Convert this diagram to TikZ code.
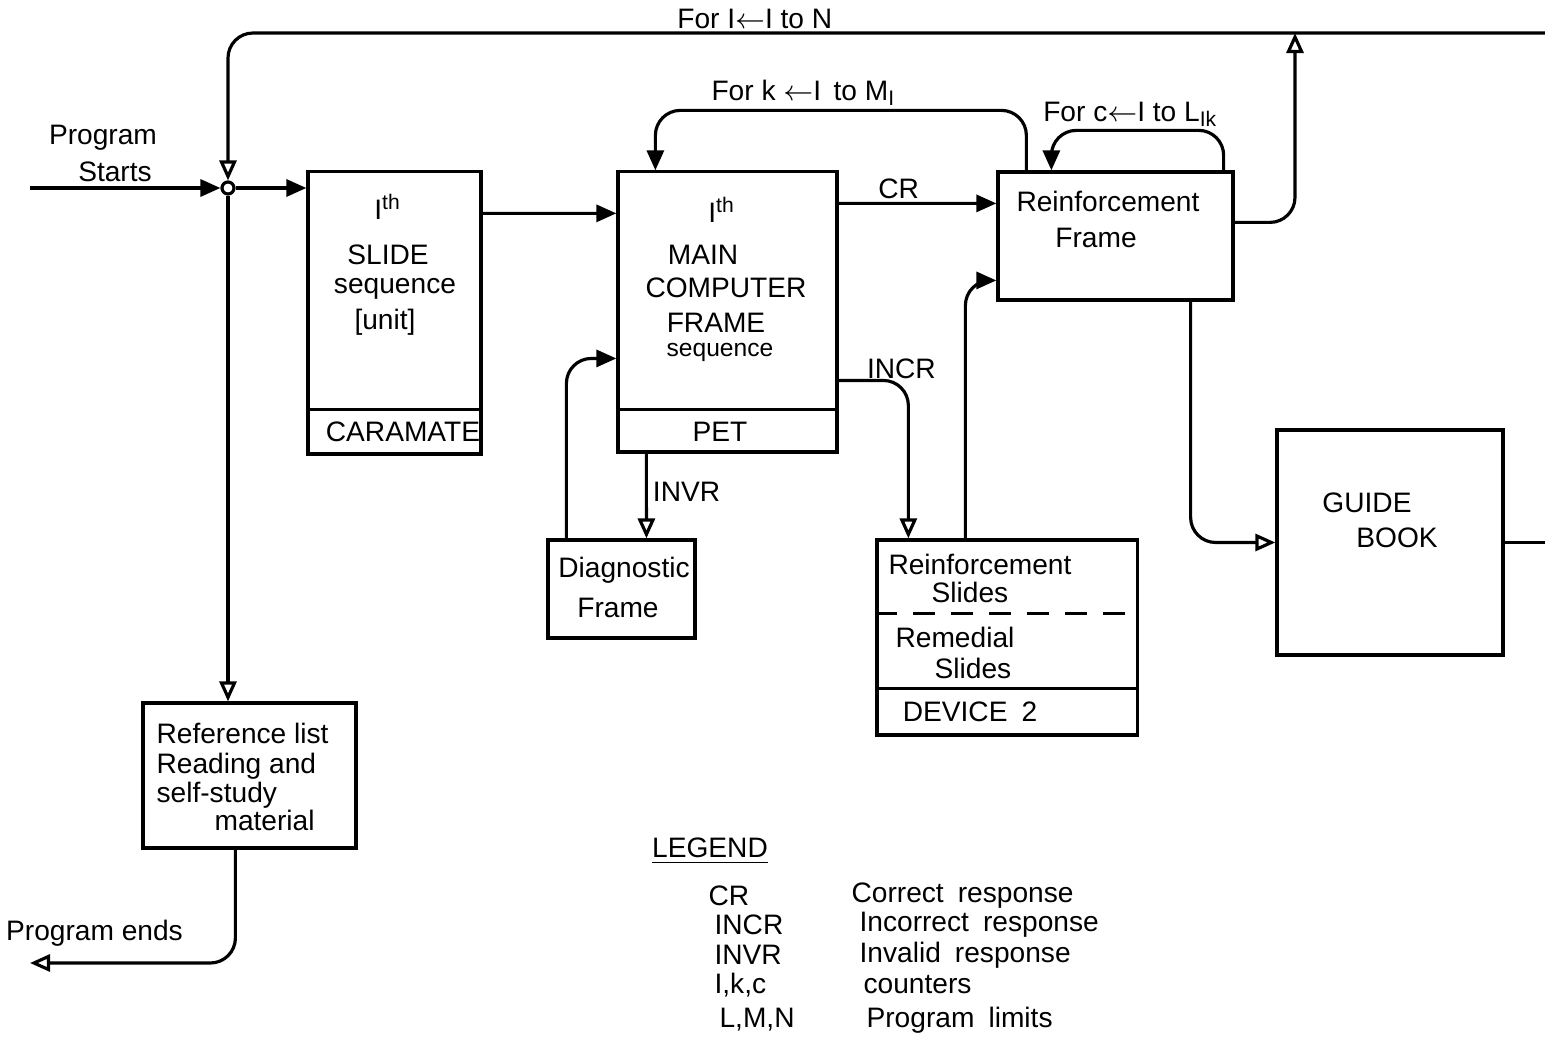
\documentclass[tikz,border=0pt]{standalone}
\usepackage{fontspec}
\setmainfont{Liberation Sans}
\usepackage{tikz}
\usetikzlibrary{arrows.meta, positioning, calc}

\begin{document}
\begin{tikzpicture}[
    x=0.01cm, y=-0.01cm,
    font=\fontsize{8}{9.6}\selectfont,
    line width=0.9pt,
    caja/.style={draw, line width=0.9pt, inner sep=0pt},
    texto/.style={inner sep=0pt},
    izq/.style={texto, anchor=west},
    flecha/.style={-{Triangle[length=2mm, width=1.7mm]}},
    hueca/.style={-{Triangle[open, length=2mm, width=1.7mm]}},
    codo/.style={rounded corners=2.5mm}
  ]
  \useasboundingbox (0,0) rectangle (1545,1040);

  % --- Cajas ---
  \node[caja, minimum width=17.3mm, minimum height=28.2mm] (slide)  at (394.5,313)  {};
  \node[caja, minimum width=21.9mm, minimum height=28.0mm] (main)   at (727.5,312)  {};
  \node[caja, minimum width=23.5mm, minimum height=12.8mm] (reinf)  at (1115.5,236) {};
  \node[caja, minimum width=22.6mm, minimum height=22.5mm] (guide)  at (1390,542.5) {};
  \node[caja, minimum width=26.0mm, minimum height=19.5mm] (device) at (1007,637.5) {};
  \node[caja, minimum width=14.7mm, minimum height=9.8mm]  (diag)   at (621.5,589)  {};
  \node[caja, minimum width=21.3mm, minimum height=14.5mm] (ref)    at (249.5,775.5) {};
  \node[draw, circle, minimum size=1.2mm, inner sep=0pt] (jn) at (228,188) {};

  % --- Divisiones ---
  \draw ([yshift=4.6mm]slide.south west) -- ([yshift=4.6mm]slide.south east);
  \draw ([yshift=4.4mm]main.south west) -- ([yshift=4.4mm]main.south east);
  \draw ([yshift=4.8mm]device.south west) -- ([yshift=4.8mm]device.south east);
  \draw[dashed, dash pattern=on 2.2mm off 1.6mm]
        ([yshift=12.3mm]device.south west) -- ([yshift=12.3mm]device.south east);

  % --- Textos de las cajas ---
  \node[texto] (slth)  at (388,207) {I\textsuperscript{th}};
  \node[texto] (slnm)  at (388,255) {SLIDE};
  \node[texto] (slseq) at (395,289) {sequence};
  \node[texto] (slun)  at (385,322) {[unit]};
  \node[texto] (slcar) at (403,432) {CARAMATE};

  \node[texto] (mnth)  at (722,210) {I\textsuperscript{th}};
  \node[texto] (mnma)  at (703,255) {MAIN};
  \node[texto] (mnco)  at (726,288) {COMPUTER};
  \node[texto] (mnfr)  at (716,323) {FRAME};
  \node[texto, font=\fontsize{7}{8}\selectfont] (mnseq) at (720,352) {sequence};
  \node[texto] (mnpet) at (720,432) {PET};

  \node[texto] (rfa) at (1108,201) {Reinforcement};
  \node[texto] (rfb) at (1096,238) {Frame};

  \node[texto] (dga) at (624,570) {Diagnostic};
  \node[texto] (dgb) at (618,608) {Frame};

  \node[texto] (dva) at (980,564) {Reinforcement};
  \node[texto] (dvb) at (970,592) {Slides};
  \node[texto] (dvc) at (955,637) {Remedial};
  \node[texto] (dvd) at (973,668) {Slides};
  \node[texto] (dve) at (970,712) {DEVICE\enspace 2};

  \node[texto] (gba) at (1367,503) {GUIDE};
  \node[texto] (gbb) at (1397,538) {BOOK};

  \node[izq] (rla) at (155,733) {Reference list};
  \node[izq] (rlb) at (155,766) {Reading and};
  \node[izq] (rlc) at (155,795) {self-study};
  \node[izq] (rld) at (213,820) {material};

  % --- Entrada y salida ---
  \node[texto] (pst1) at (103,138) {Program};
  \node[texto] (pst2) at (115,172) {Starts};
  \coordinate (start) at (30,188);
  \coordinate (topR)  at (1545,33);
  \coordinate (upT)   at (1295,33);
  \coordinate (fin)   at (30,963);

  \draw[flecha] (start) -- (jn.west);
  \draw[hueca, codo] (topR) -- (jn.north |- topR)
        node[texto, pos=0.6, above=0.3mm] (lazoN) {For I$\leftarrow$I to N} -- (jn.north);
  \draw[flecha] (jn.east) -- (jn.east -| slide.west);
  \draw[hueca] (jn.south) -- (jn.south |- ref.north);
  \draw[hueca, codo] ([xshift=9.4mm]ref.south west) |- (fin)
        node[texto, pos=0.843, above=1.5mm] (pend) {Program ends};

  % --- Flujo principal ---
  \draw[flecha] ([yshift=-4.3mm]slide.north east) -- ([yshift=-4.3mm]main.north west);
  \draw[flecha] ([yshift=-3.3mm]main.north east) --
        node[texto, pos=0.38, above=0.3mm] (lcr) {CR} ([yshift=-3.3mm]reinf.north west);
  \draw[hueca, codo] ([yshift=-21mm]main.north east) -|
        node[texto, pos=0.45, above=0pt] (lincr) {INCR} ([xshift=3.3mm]device.north west);
  \draw[flecha, codo] ([xshift=9mm]device.north west) |- ([yshift=-11mm]reinf.north west);
  \draw[hueca] ([xshift=3mm]main.south west) --
        node[texto, pos=0.45, right=0.5mm] (linvr) {INVR} ([xshift=10mm]diag.north west);
  \draw[flecha, codo] ([xshift=2mm]diag.north west) |- ([yshift=-18.8mm]main.north west);

  % --- Lazos ---
  \draw[flecha, codo] ([xshift=3mm]reinf.north west) -- ++(0,-60) -|
        node[texto, pos=0.3, above=0.3mm] (lazok) {For k $\leftarrow$I\, to M\textsubscript{I}}
        ([xshift=3.9mm]main.north west);
  \draw[flecha, codo] ([xshift=-1.1mm]reinf.north east) -- ++(0,-40) -|
        node[texto, pos=0.27, above=0.2mm] (lazoc) {For c$\leftarrow$I to L\textsubscript{Ik}}
        ([xshift=5.5mm]reinf.north west);
  \draw[hueca, codo] ([yshift=-5.2mm]reinf.north east) -| (upT);
  \draw[hueca, codo] ([xshift=-4.4mm]reinf.south east) |- (guide.west);
  \draw (guide.east) -- (guide.east -| topR);

  % --- Leyenda ---
  \node[texto] (leg) at (710,851) {\underline{LEGEND}};
  \node[izq] (lga) at (707,896)  {CR};
  \node[izq] (lgb) at (713,925)  {INCR};
  \node[izq] (lgc) at (713,955)  {INVR};
  \node[izq] (lgd) at (713,985)  {I,k,c};
  \node[izq] (lge) at (718,1020) {L,M,N};
  \node[izq] (lda) at (850,896)  {Correct\enspace response};
  \node[izq] (ldb) at (858,925)  {Incorrect\enspace response};
  \node[izq] (ldc) at (858,955)  {Invalid\enspace response};
  \node[izq] (ldd) at (862,985)  {counters};
  \node[izq] (lde) at (865,1020) {Program\enspace limits};
\end{tikzpicture}
\end{document}
